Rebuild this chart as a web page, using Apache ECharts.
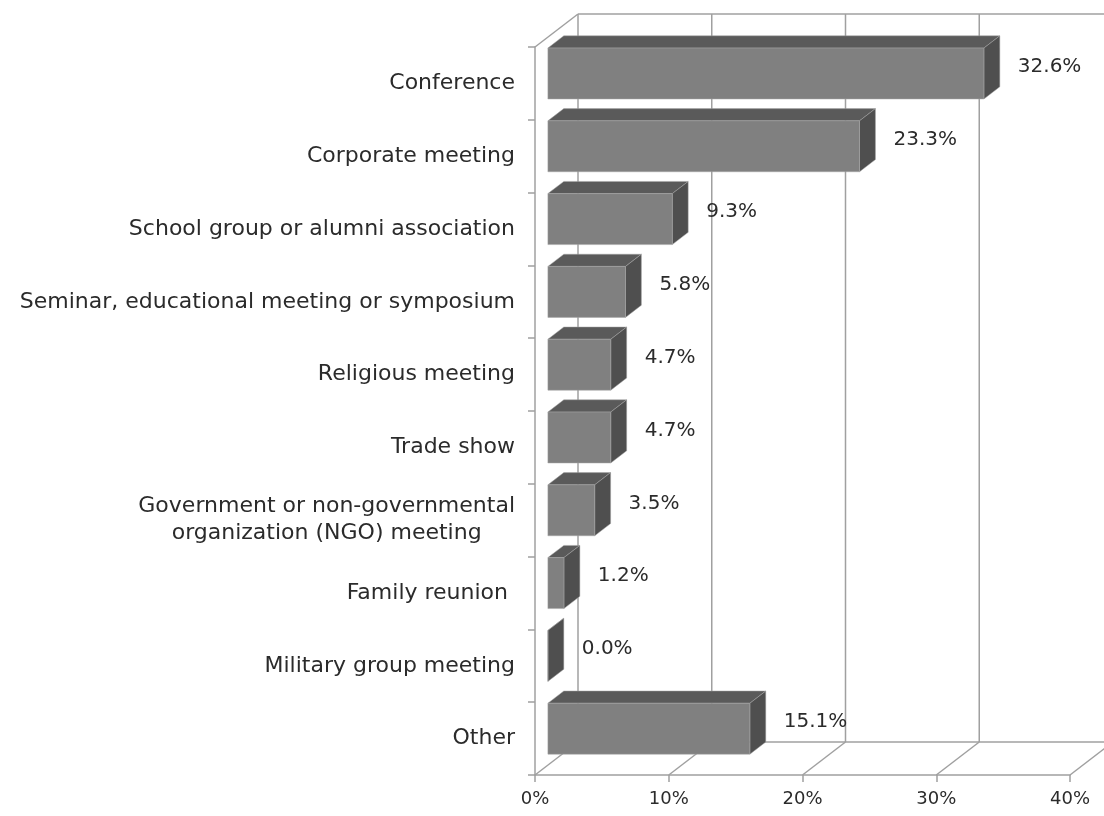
<!DOCTYPE html>
<html>
<head>
<meta charset="utf-8">
<script src="https://cdn.jsdelivr.net/npm/echarts@6/dist/echarts.min.js"></script>
<style>
  html, body { margin: 0; padding: 0; background: #ffffff; }
  #chart { width: 1104px; height: 816px; }
</style>
</head>
<body>
<div id="chart"></div>
<script>
// Meeting / event types and their share of responses (percent)
var categories = [
  'Conference',
  'Corporate meeting',
  'School group or alumni association',
  'Seminar, educational meeting or symposium',
  'Religious meeting',
  'Trade show',
  'Government or non-governmental\norganization (NGO) meeting',
  'Family reunion ',
  'Military group meeting',
  'Other'
];
var shares = [32.6, 23.3, 9.3, 5.8, 4.7, 4.7, 3.5, 1.2, 0.0, 15.1];
var axisTicks = [0, 10, 20, 30, 40];

// Perspective of the 3D box: back wall offset and bar slab placement
var WALL_DX = 43, WALL_DY = -33;
var BAR_FRONT = 0.3, BAR_BACK = 0.67;   // fraction of wall depth
var BAR_FILL = 0.7;                      // bar height as fraction of band

var FONT = 'DejaVu Sans';
var TEXT_COLOR = '#2b2b2b';
var GRID_COLOR = '#a0a0a0';

var chart = echarts.init(document.getElementById('chart'), null, { renderer: 'canvas' });

function frameItem(params, api) {
  var cs = params.coordSys;
  var top = cs.y, bottom = cs.y + cs.height;
  var children = [];
  var line = function (x1, y1, x2, y2) {
    children.push({
      type: 'line',
      shape: { x1: x1, y1: y1, x2: x2, y2: y2 },
      style: { stroke: GRID_COLOR, lineWidth: 1.5 }
    });
  };
  var x0 = api.coord([axisTicks[0], 0])[0];
  var xEnd = api.coord([axisTicks[axisTicks.length - 1], 0])[0];
  // back wall vertical gridlines and floor diagonals
  axisTicks.forEach(function (t) {
    var x = api.coord([t, 0])[0];
    line(x + WALL_DX, top + WALL_DY, x + WALL_DX, bottom + WALL_DY);
    line(x, bottom, x + WALL_DX, bottom + WALL_DY);
  });
  // back wall top edge and floor back edge
  line(x0 + WALL_DX, top + WALL_DY, xEnd + WALL_DX, top + WALL_DY);
  line(x0 + WALL_DX, bottom + WALL_DY, xEnd + WALL_DX, bottom + WALL_DY);
  // left wall top edge
  line(x0, top, x0 + WALL_DX, top + WALL_DY);
  return { type: 'group', children: children };
}

function barItem(params, api) {
  var idx = api.value(0);
  var val = api.value(1);
  var base = api.coord([0, idx]);
  var end = api.coord([val, idx]);
  var band = api.size([0, 1])[1];
  var h = band * BAR_FILL;
  var fdx = WALL_DX * BAR_FRONT, fdy = WALL_DY * BAR_FRONT;
  var ddx = WALL_DX * (BAR_BACK - BAR_FRONT), ddy = WALL_DY * (BAR_BACK - BAR_FRONT);
  var xa = base[0] + fdx, xb = end[0] + fdx;
  var yc = base[1] + fdy;
  var yt = yc - h / 2, yb = yc + h / 2;
  var edge = { stroke: 'rgba(165,165,165,0.7)', lineWidth: 0.7 };
  return {
    type: 'group',
    children: [
      {
        type: 'polygon',
        shape: { points: [[xa, yt], [xb, yt], [xb + ddx, yt + ddy], [xa + ddx, yt + ddy]] },
        style: Object.assign({ fill: '#5a5a5a' }, edge)
      },
      {
        type: 'polygon',
        shape: { points: [[xb, yt], [xb + ddx, yt + ddy], [xb + ddx, yb + ddy], [xb, yb]] },
        style: Object.assign({ fill: '#4f4f4f' }, edge)
      },
      {
        type: 'rect',
        shape: { x: xa, y: yt, width: xb - xa, height: h },
        style: Object.assign({ fill: '#808080' }, edge)
      },
      {
        type: 'text',
        x: xb + ddx + 18,
        y: yc - 7,
        style: {
          text: val.toFixed(1) + '%',
          fontFamily: FONT,
          fontSize: 20,
          fill: TEXT_COLOR,
          align: 'left',
          verticalAlign: 'middle'
        }
      }
    ]
  };
}

chart.setOption({
  animation: false,
  backgroundColor: '#ffffff',
  grid: { left: 535, right: 34, top: 47, bottom: 41 },
  xAxis: {
    type: 'value',
    min: 0,
    max: 40,
    interval: 10,
    splitLine: { show: false },
    axisLine: { show: true, lineStyle: { color: GRID_COLOR, width: 1.5 } },
    axisTick: { show: true, length: 7, lineStyle: { color: GRID_COLOR, width: 1.5 } },
    axisLabel: {
      margin: 15,
      formatter: '{value}%',
      fontFamily: FONT,
      fontSize: 18,
      color: TEXT_COLOR
    }
  },
  yAxis: {
    type: 'category',
    inverse: true,
    data: categories,
    boundaryGap: true,
    axisLine: { show: true, lineStyle: { color: GRID_COLOR, width: 1.5 } },
    axisTick: { show: true, length: 7, lineStyle: { color: GRID_COLOR, width: 1.5 } },
    axisLabel: {
      margin: 20,
      align: 'right',
      formatter: function (v) {
        return v.split('\n').map(function (s) { return '{c|' + s + '}'; }).join('\n');
      },
      rich: {
        c: {
          align: 'center',
          fontFamily: FONT,
          fontSize: 22,
          lineHeight: 27,
          color: TEXT_COLOR
        }
      }
    }
  },
  series: [
    {
      type: 'custom',
      name: 'frame',
      z: 1,
      silent: true,
      renderItem: frameItem,
      data: [[0, 0]]
    },
    {
      type: 'custom',
      name: 'share',
      z: 3,
      renderItem: barItem,
      encode: { x: 1, y: 0 },
      data: shares.map(function (v, i) { return [i, v]; })
    }
  ]
});
</script>
</body>
</html>
